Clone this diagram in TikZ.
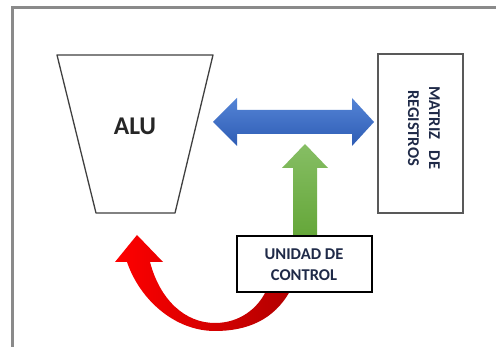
\documentclass[tikz,border=0pt]{standalone}
\usepackage{fontspec}
\setmainfont{Carlito}
\definecolor{txt}{HTML}{1F2A48}
\definecolor{framegray}{HTML}{8A8A8A}
\definecolor{bluetop}{RGB}{84,132,214}
\definecolor{bluebot}{RGB}{46,92,180}
\definecolor{greentop}{RGB}{134,190,100}
\definecolor{greenbot}{RGB}{100,166,56}
\tikzset{
  boxline/.style={line width=1.6pt},
  lbl/.style={font=\bfseries\fontsize{16.5}{21}\selectfont, text=txt, align=center, inner sep=0pt},
}
\begin{document}
\begin{tikzpicture}[x=1pt,y=-1pt]
\useasboundingbox (0,0) rectangle (496,347);
\fill[white] (0,0) rectangle (496,347);
% frame
\draw[framegray, line width=3pt] (12,347) -- (12,8) -- (496,8);
% ALU trapezoid
\draw[black!75, line width=1.3pt, line join=round] (57,55) -- (213,55) -- (175,213) -- (96,213) -- cycle;
\node[font=\bfseries\fontsize{25.5}{28}\selectfont, text=black!85, inner sep=0pt] (alu) at (135,126) {ALU};
% register matrix
\node[draw=black!65, boxline, fill=white, minimum width=85pt, minimum height=159pt, inner sep=0pt] (reg) at (420.5,133.5) {};
\node[lbl, rotate=-90] (regtxt) at (424,128) {MATRIZ\hspace{0.7em}DE\\REGISTROS};
% red curved arrow
\coordinate (rhead) at (137,235);
\shade[left color=red, right color=red!70!black]
  (290,291) .. controls (274,320) and (247,331) .. (215,331)
  .. controls (175,331) and (140,300) .. (127,262)
  -- (115,262) -- (rhead) -- (163,262) -- (150,262)
  .. controls (160,300) and (185,323) .. (215,323)
  .. controls (240,323) and (258,308) .. (266,291) -- cycle;
% blue double arrow
\coordinate (bl) at (213,122);
\coordinate (br) at (374,122);
\shade[top color=bluetop, bottom color=bluebot]
  (bl) -- (237,98) -- (237,110) -- (352,110) -- (352,98) -- (br) -- (352,146) -- (352,134) -- (237,134) -- (237,146) -- cycle;
% green arrow
\coordinate (gt) at (305,144);
\shade[top color=greentop, bottom color=greenbot]
  (gt) -- (328,168) -- (317,168) -- (317,238) -- (293,238) -- (293,168) -- (282,168) -- cycle;
% control unit
\node[draw=black, boxline, fill=white, minimum width=135pt, minimum height=56pt, inner sep=0pt] (uc) at (304.5,264) {};
\node[lbl] (uctxt) at (304,265) {UNIDAD DE\\CONTROL};
\end{tikzpicture}
\end{document}
